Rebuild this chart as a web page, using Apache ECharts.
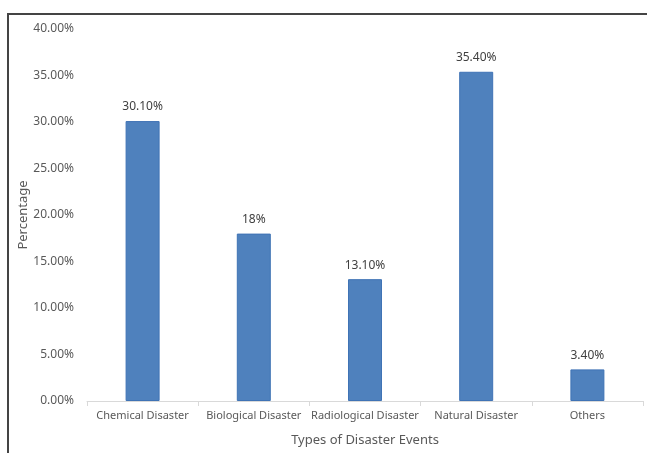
<!DOCTYPE html>
<html><head><meta charset="utf-8">
<script src="https://cdn.jsdelivr.net/npm/echarts@6/dist/echarts.min.js"></script>
<style>html,body{margin:0;padding:0;background:#fff}#c{width:647px;height:453px}</style>
</head><body><div id="c"></div>
<script>
const categories = ['Chemical Disaster','Biological Disaster','Radiological Disaster','Natural Disaster','Others'];
const values = [30.1, 18, 13.1, 35.4, 3.4];
const labelTexts = ['30.10%','18%','13.10%','35.40%','3.40%'];
const yTicks = [0,5,10,15,20,25,30,35,40];

const chart = echarts.init(document.getElementById('c'), null, {renderer:'canvas'});
const font = 'Noto Sans';
chart.setOption({
  animation:false,
  backgroundColor:'#fff',
  graphic:[{type:'rect',shape:{x:8,y:14,width:700,height:500},style:{fill:'none',stroke:'#444',lineWidth:2}}],
  grid:{left:87,right:4,top:29,bottom:52,containLabel:false},
  xAxis:{type:'category',data:categories,
    name:'Types of Disaster Events',nameLocation:'middle',nameGap:33,nameMoveOverlap:false,
    nameTextStyle:{fontFamily:font,fontSize:13,color:'#595959'},
    axisLine:{lineStyle:{color:'#d9d9d9'}},
    axisTick:{show:true,alignWithLabel:false,length:5,lineStyle:{color:'#d9d9d9'}},
    axisLabel:{fontFamily:font,fontSize:11,color:'#595959',margin:9,interval:0}},
  yAxis:{type:'value',min:yTicks[0],max:yTicks[yTicks.length-1],interval:yTicks[1]-yTicks[0],
    name:'Percentage',nameLocation:'middle',nameGap:57,nameRotate:90,nameMoveOverlap:false,
    nameTextStyle:{fontFamily:font,fontSize:13,color:'#595959'},
    axisLine:{show:false},axisTick:{show:false},splitLine:{show:false},
    axisLabel:{fontFamily:font,fontSize:12,color:'#595959',margin:13,
      formatter:v=>v.toFixed(2)+'%'}},
  series:[{type:'bar',data:values,barWidth:34,
    itemStyle:{color:'#4f81bd',borderColor:'#3f73b5',borderWidth:1},
    label:{show:true,position:'top',distance:8,fontFamily:font,fontSize:12,color:'#404040',
      formatter:p=>labelTexts[p.dataIndex]}}]
});
</script></body></html>
